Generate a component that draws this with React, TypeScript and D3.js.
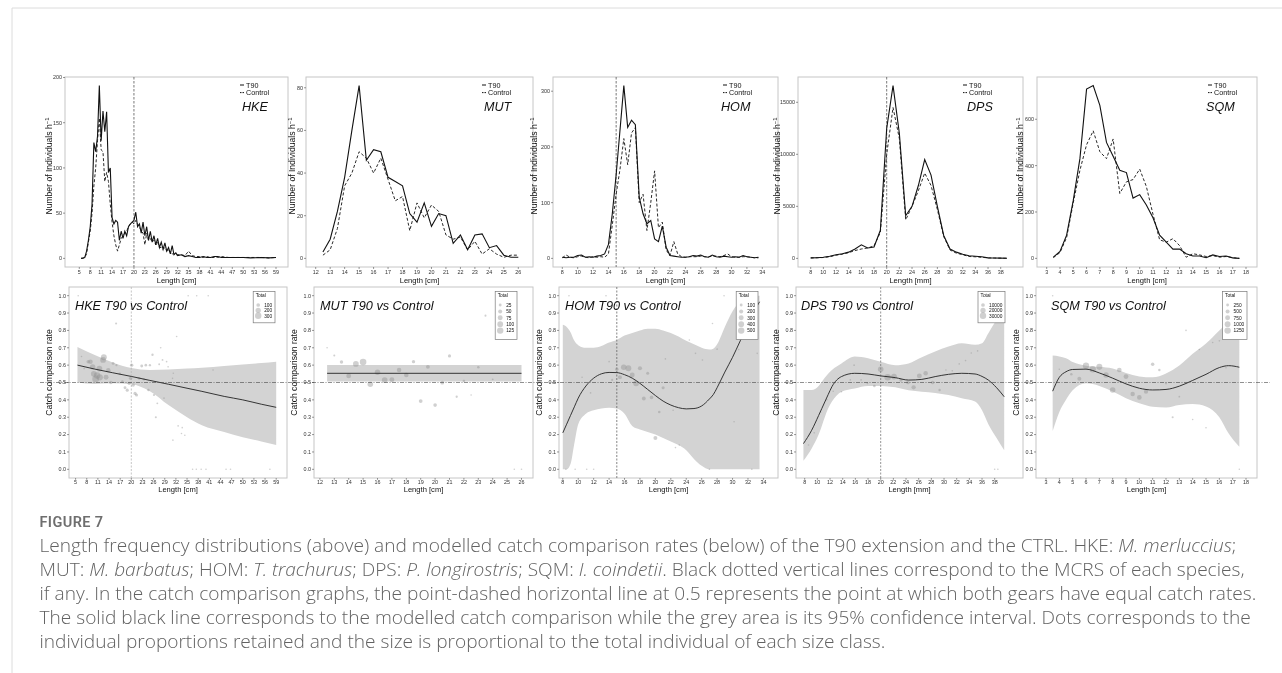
import React from "react";
import * as d3 from "d3";

// ---------------- DATA ----------------
// Length-frequency: [length, T90, Control]
const hkeFreq = [
  [5.5,0,0],[6,0.5,0],[6.5,1,1],[7,8,5],[7.5,20,18],[8,35,30],[8.5,60,50],[9,128,80],[9.5,118,100],[10,135,130],
  [10.5,191,155],[11,130,120],[11.5,163,118],[12,140,85],[12.5,162,95],[13,95,85],[13.5,100,60],[14,45,40],[14.5,38,25],
  [15,42,15],[15.5,40,8],[16,20,15],[16.5,30,22],[17,22,25],[17.5,30,28],[18,25,30],[18.5,35,35],[19,38,38],[19.5,40,40],
  [20,42,38],[20.5,51,42],[21,35,38],[21.5,38,35],[22,28,30],[22.5,40,28],[23,25,15],[23.5,35,28],[24,20,20],[24.5,30,22],
  [25,18,18],[25.5,25,20],[26,15,15],[26.5,22,18],[27,12,12],[27.5,18,12],[28,10,10],[28.5,17,12],[29,8,8],[29.5,12,10],
  [30,5,6],[30.5,14,5],[31,4,5],[31.5,6,4],[32,3,4],[33,4,4],[34,2,3],[35,3,8],[36,2,3],[37,1,2],[38,1,2],[39,2,1],
  [40,1,2],[41,1,1],[42,2,1],[43,2,1],[44,1,2],[46,1,1],[48,1,1],[50,1,1],[52,0.5,1],[55,1,1],[57,0.5,0.5],[59,1,1]
];
const mutFreq = [
  [12.5,3,1.5],[13,9,4],[13.5,22,14],[14,38,34],[14.5,60,40],[15,81,50],[15.5,46,47],[16,51,40],[16.5,50,47],[17,38,37],
  [17.5,36,27],[18,34,29],[18.5,21,13],[19,17,26],[19.5,26,19],[20,15,25],[20.5,21,22],[21,20,11],[21.5,7,9],[22,11,10],
  [22.5,4,4],[23,11,8],[23.5,11.5,2],[24,5,4.5],[24.5,6,2],[25,1.5,0.5],[25.5,0.5,1.5],[26,0.5,1.5]
];
const homFreq = [
  [8,2,1],[8.5,1,6],[9,2,2],[9.5,2,1],[10,5,3],[10.5,6,4],[11,2,2],[11.5,3,1],[12,2,3],[12.5,4,2],[13,5,3],[13.5,8,2],
  [14,25,8],[14.5,80,60],[15,150,115],[15.5,230,160],[16,310,215],[16.5,235,168],[17,248,225],[17.5,240,235],[18,110,100],
  [18.5,80,115],[19,62,50],[19.5,68,100],[20,35,157],[20.5,30,55],[21,58,65],[21.5,20,15],[22,5,5],[22.5,4,30],[23,3,8],
  [23.5,2,3],[24,2,2],[24.5,3,3],[25,5,3],[25.5,4,3],[26,6,4],[26.5,3,3],[27,2,3],[27.5,6,4],[28,3,4],[28.5,2,3],[29,4,5],
  [29.5,3,8],[30,2,3],[30.5,3,2],[31,2,2],[31.5,5,3],[32,3,3],[32.5,2,2],[33,1,1],[33.5,2,1]
];
const dpsFreq = [
  [8,50,40],[9,60,60],[10,100,80],[11,200,150],[12,350,300],[13,450,400],[14,600,550],[15,900,750],[16,1300,900],
  [17,1000,1000],[18,1100,1200],[19,2700,2500],[20,12500,10000],[21,16600,14500],[22,12000,11500],[23,4100,3700],
  [24,5000,5000],[25,7000,6500],[26,9500,8200],[27,8000,7000],[28,5000,4700],[29,2200,2100],[30,900,800],[31,600,500],
  [32,400,350],[33,250,180],[34,200,150],[35,150,100],[36,50,50],[37,30,30],[38,20,20],[39,10,10]
];
const sqmFreq = [
  [3.5,5,3],[4,30,25],[4.5,100,90],[5,250,240],[5.5,430,380],[6,730,490],[6.5,745,550],[7,660,460],[7.5,500,430],
  [8,440,515],[8.5,380,280],[9,370,330],[9.5,260,340],[10,275,385],[10.5,230,310],[11,175,190],[11.5,100,80],[12,70,70],
  [12.5,40,85],[13,40,55],[13.5,20,5],[14,10,20],[14.5,10,15],[15,3,8],[15.5,15,12],[16,8,5],[16.5,10,8],[17,2,3],[17.5,0,0]
];

// Modelled catch comparison: [length, fit, lower95, upper95]
const hkeModel = [
  [5.5,0.60,0.50,0.705],[10,0.578,0.492,0.66],[15,0.556,0.495,0.615],[20,0.535,0.49,0.583],[25,0.512,0.45,0.572],
  [30,0.49,0.37,0.575],[35,0.467,0.30,0.58],[39,0.449,0.254,0.585],[45,0.42,0.215,0.595],[50,0.40,0.185,0.603],
  [55,0.375,0.16,0.612],[59,0.357,0.14,0.62]
];
const mutModel = [[12.5,0.553,0.506,0.601],[26,0.553,0.506,0.601]];
const homModel = [
  [8,0.21,0.0,0.832],[8.5,0.26,0.0,0.82],[9,0.31,0.03,0.79],[9.5,0.36,0.15,0.74],[10,0.41,0.26,0.715],[11,0.48,0.32,0.70],
  [12,0.525,0.34,0.70],[13,0.55,0.35,0.71],[14,0.558,0.355,0.73],[15,0.557,0.35,0.745],[16,0.545,0.32,0.77],
  [17,0.525,0.25,0.785],[18,0.495,0.23,0.80],[19,0.46,0.215,0.81],[20,0.425,0.20,0.81],[21,0.393,0.18,0.80],
  [22,0.37,0.16,0.785],[23,0.355,0.14,0.765],[24,0.348,0.11,0.74],[25,0.35,0.06,0.72],[26,0.365,0.02,0.70],
  [27,0.405,0.0,0.69],[27.5,0.43,0.0,0.695],[28,0.47,0.0,0.72],[29,0.56,0.0,0.82],[30,0.645,0.0,0.91],
  [31,0.74,0.0,0.97],[32,0.835,0.0,1.0],[33,0.925,0.0,1.0],[33.5,0.965,0.0,1.0]
];
const dpsModel = [
  [7.8,0.148,0.05,0.457],[9.1,0.225,0.12,0.457],[10.2,0.31,0.2,0.48],[10.7,0.35,0.25,0.505],[11.7,0.43,0.35,0.55],
  [12.3,0.476,0.39,0.572],[13.8,0.534,0.447,0.61],[15.9,0.553,0.466,0.65],[18,0.549,0.48,0.64],[20,0.538,0.48,0.62],
  [22.3,0.528,0.472,0.60],[24.4,0.514,0.455,0.61],[26.5,0.518,0.447,0.645],[28.6,0.534,0.44,0.678],
  [30.7,0.547,0.428,0.707],[32.8,0.553,0.41,0.726],[34.9,0.549,0.39,0.717],[36,0.535,0.34,0.726],
  [37,0.514,0.26,0.784],[38.3,0.47,0.18,0.86],[39.5,0.418,0.11,0.9]
];
const sqmModel = [
  [3.5,0.45,0.22,0.655],[4,0.53,0.33,0.65],[4.5,0.562,0.4,0.64],[5,0.575,0.455,0.618],[6,0.577,0.495,0.597],
  [7,0.555,0.48,0.59],[8,0.525,0.448,0.58],[9,0.492,0.41,0.555],[10,0.467,0.38,0.535],[11,0.457,0.36,0.53],
  [12,0.46,0.356,0.552],[13,0.479,0.37,0.598],[14,0.512,0.376,0.665],[15,0.547,0.362,0.724],[16,0.586,0.30,0.80],
  [16.7,0.597,0.206,0.85],[17.5,0.588,0.13,0.88]
];

// Observed proportions: [length, rate, total]
const hkePoints = [
  [5.7,1.0,1],[6.6,0.65,3],[7.3,0.58,20],[8.4,0.62,90],[9.0,0.62,150],[9.6,0.59,220],[9.9,0.55,240],[10.4,0.52,340],
  [10.8,0.54,300],[11.4,0.58,250],[11.5,0.53,290],[12.4,0.63,250],[12.6,0.645,260],[13.2,0.53,180],[13.8,0.57,150],
  [14.5,0.50,80],[15.1,0.61,60],[15.9,0.84,30],[16.0,0.60,35],[16.9,0.55,50],[17.6,0.505,55],[18.3,0.47,60],
  [18.9,0.456,70],[19.4,0.495,75],[19.8,0.524,80],[20.1,0.60,85],[20.5,0.485,90],[21,0.437,75],[21.4,0.428,70],
  [22.1,0.524,60],[22.8,0.595,60],[23.4,0.518,45],[23.9,0.60,50],[24.6,0.457,45],[25,0.60,40],[25.7,0.66,40],
  [26.1,0.428,35],[26.6,0.30,30],[27,0.38,25],[27.5,0.605,25],[27.9,0.70,20],[28.4,0.63,25],[28.8,0.41,20],
  [29.5,0.62,20],[29.9,0.59,15],[31.1,0.524,15],[31.3,0.553,12],[31.2,0.168,10],[32.2,0.765,8],[32.6,0.25,6],
  [33.5,0.206,6],[34.4,0.196,5],[33.7,0.24,5],[35.3,1.0,3],[37.6,1.0,2],[40.7,1.0,2],[42,0.572,4],[36.5,0,2],
  [37.5,0,2],[38.8,0,2],[40.1,0,2],[45.5,0,1],[46.7,0,1],[57.3,0,1]
];
const mutPoints = [
  [12.5,0.70,4],[13,0.655,13],[13.5,0.618,36],[14,0.538,72],[14.5,0.607,100],[15,0.618,131],[15.5,0.49,93],
  [16,0.559,91],[16.5,0.514,97],[17,0.516,75],[17.5,0.572,63],[18,0.543,63],[18.5,0.62,34],[19,0.393,43],
  [19.5,0.59,45],[20,0.37,40],[20.5,0.499,43],[21,0.653,31],[21.5,0.418,16],[22,0.509,21],[22.5,0.428,8],
  [23,0.588,19],[23.5,0.885,13],[24,0.518,10],[25.5,0.0,2],[26,0.0,2]
];
const homPoints = [
  [8.8,1.0,2],[13.6,1.0,3],[28.9,1.0,3],[10.5,0.53,6],[11.6,0.44,3],[14.0,0.62,25],[14.4,0.515,60],[15.0,0.576,150],
  [15.4,0.53,200],[15.9,0.588,380],[16.5,0.582,420],[17.0,0.543,300],[17.5,0.495,400],[18.0,0.582,210],
  [18.5,0.408,180],[19.0,0.553,110],[19.5,0.414,160],[20.0,0.18,190],[20.5,0.33,80],[21.0,0.47,120],[21.3,0.636,30],
  [22.3,0.34,10],[22.6,0.125,8],[23.1,0.14,5],[24.4,0.745,5],[25.2,0.668,5],[26.1,0.63,7],[27.4,0.84,5],
  [28.0,0.692,6],[30.2,0.274,5],[30.8,0.69,4],[33.2,0.668,3],[8.4,0,3],[9.6,0,4],[11.1,0,3],[12.0,0,3],[27,0,4],[32.5,0,2]
];
const dpsPoints = [
  [8.6,0.14,90],[9.5,0.21,120],[10.5,0.33,250],[11.5,0.40,450],[12.5,0.45,650],[13.8,0.447,850],[15.2,0.515,1650],
  [15.8,0.60,2200],[16.9,0.515,2000],[17.9,0.495,2300],[19.0,0.48,5200],[20.0,0.576,22500],[21.1,0.53,31000],
  [22.1,0.534,23500],[23.2,0.514,7800],[24.3,0.50,10000],[25.2,0.472,13500],[26.1,0.538,17700],[27.1,0.553,15000],
  [28.2,0.50,9700],[29.3,0.457,4300],[30.3,0.572,1700],[31.3,0.567,1100],[32.4,0.607,750],[33.4,0.626,430],
  [34.3,0.67,350],[35.3,0.682,250],[36.3,0.5,100],[38,0,40],[38.5,0,20]
];
const sqmPoints = [
  [3.5,1.0,8],[4,0.576,55],[4.9,0.547,190],[5.5,0.522,490],[6.0,0.597,1220],[6.5,0.576,1295],[7.0,0.59,1120],
  [7.5,0.543,930],[8.0,0.457,955],[8.5,0.572,660],[9.0,0.534,700],[9.5,0.434,600],[10.0,0.414,660],[10.5,0.447,540],
  [11.0,0.605,365],[11.5,0.572,180],[12.0,0.495,140],[12.5,0.30,125],[13.0,0.418,95],[13.5,0.80,25],[14.0,0.287,30],
  [14.5,0.69,25],[15.0,0.239,11],[15.5,0.73,27],[16.0,0.74,13],[16.5,0.585,18],[17.5,0.0,3]
];

// Tick labels / legend breaks
const hkeXTicks = [5,8,11,14,17,20,23,26,29,32,35,38,41,44,47,50,53,56,59];
const mutXTicks = [12,13,14,15,16,17,18,19,20,21,22,23,24,25,26];
const homXTicks = [8,10,12,14,16,18,20,22,24,26,28,30,32,34];
const dpsXTicks = [8,10,12,14,16,18,20,22,24,26,28,30,32,34,36,38];
const sqmXTicks = [3,4,5,6,7,8,9,10,11,12,13,14,15,16,17,18];
const hkeYTicks = [0,50,100,150,200];
const mutYTicks = [0,20,40,60,80];
const homYTicks = [0,100,200,300];
const dpsYTicks = [0,5000,10000,15000];
const sqmYTicks = [0,200,400,600];
const rateTicks = [0,0.1,0.2,0.3,0.4,0.5,0.6,0.7,0.8,0.9,1.0];
const hkeBreaks = [100,200,300];
const mutBreaks = [25,50,75,100,125];
const homBreaks = [100,200,300,400,500];
const dpsBreaks = [10000,20000,30000];
const sqmBreaks = [250,500,750,1000,1250];
const seriesNames = ["T90", "Control"];

// ---------------- LAYOUT ----------------
const FONT = "'Liberation Sans', Arial, Helvetica, sans-serif";
const TOP_T = 77, TOP_B = 267, BOT_T = 287, BOT_B = 478;

type Row = number[];
interface Panel {
  code: string; unit: string; freq: Row[]; model: Row[]; points: Row[];
  xTicks: number[]; yTicks: number[]; breaks: number[]; mcrs: number | null;
  top: { L: number; R: number; a: number[]; b: number[]; keyX: number; labX: number; yLabX: number };
  bot: { L: number; R: number; a: number[]; b: number[]; titleX: number; legR: number; mcrsColor: string };
}

const panels: Panel[] = [
  { code: "HKE", unit: "cm", freq: hkeFreq, model: hkeModel, points: hkePoints, xTicks: hkeXTicks, yTicks: hkeYTicks,
    breaks: hkeBreaks, mcrs: 20,
    top: { L: 65, R: 288, a: [5, 79.3], b: [59, 276], keyX: 240, labX: 242, yLabX: 52 },
    bot: { L: 69, R: 287, a: [5, 75.6], b: [59, 276.2], titleX: 75, legR: 275, mcrsColor: "#b8b8b8" } },
  { code: "MUT", unit: "cm", freq: mutFreq, model: mutModel, points: mutPoints, xTicks: mutXTicks, yTicks: mutYTicks,
    breaks: mutBreaks, mcrs: null,
    top: { L: 306, R: 533, a: [12, 315.7], b: [26, 518.3], keyX: 482, labX: 484, yLabX: 295 },
    bot: { L: 314, R: 533, a: [12, 319.9], b: [26, 521.5], titleX: 320, legR: 517, mcrsColor: "#777" } },
  { code: "HOM", unit: "cm", freq: homFreq, model: homModel, points: homPoints, xTicks: homXTicks, yTicks: homYTicks,
    breaks: homBreaks, mcrs: 15,
    top: { L: 553, R: 778, a: [8, 562.3], b: [34, 762.3], keyX: 723, labX: 721, yLabX: 537 },
    bot: { L: 559, R: 778, a: [8, 562.8], b: [34, 763.4], titleX: 565, legR: 758, mcrsColor: "#666" } },
  { code: "DPS", unit: "mm", freq: dpsFreq, model: dpsModel, points: dpsPoints, xTicks: dpsXTicks, yTicks: dpsYTicks,
    breaks: dpsBreaks, mcrs: 20,
    top: { L: 798, R: 1023, a: [8, 810.7], b: [38, 1000.7], keyX: 963, labX: 967, yLabX: 780 },
    bot: { L: 796, R: 1023, a: [8, 804.7], b: [38, 994.7], titleX: 801, legR: 1005, mcrsColor: "#777" } },
  { code: "SQM", unit: "cm", freq: sqmFreq, model: sqmModel, points: sqmPoints, xTicks: sqmXTicks, yTicks: sqmYTicks,
    breaks: sqmBreaks, mcrs: null,
    top: { L: 1037, R: 1257, a: [3, 1046.7], b: [18, 1246], keyX: 1208, labX: 1206, yLabX: 1023 },
    bot: { L: 1036, R: 1257, a: [3, 1046], b: [18, 1246], titleX: 1051, legR: 1247, mcrsColor: "#777" } },
];

const TICK = "#333";
const TICKFS = 5.4;

function TopPanel({ p }: { p: Panel }) {
  const c = p.top;
  const x = d3.scaleLinear().domain([c.a[0], c.b[0]]).range([c.a[1], c.b[1]]);
  const maxV = d3.max(p.freq, (d) => Math.max(d[1], d[2])) as number;
  const y = d3.scaleLinear().domain([-0.05 * maxV, 1.05 * maxV]).range([TOP_B, TOP_T]);
  const lT = d3.line<Row>().x((d) => x(d[0])).y((d) => y(d[1]));
  const lC = d3.line<Row>().x((d) => x(d[0])).y((d) => y(d[2]));
  const cid = "ct" + p.code;
  const cy = (TOP_T + TOP_B) / 2;
  return (
    <g>
      <clipPath id={cid}><rect x={c.L} y={TOP_T} width={c.R - c.L} height={TOP_B - TOP_T} /></clipPath>
      <rect x={c.L} y={TOP_T} width={c.R - c.L} height={TOP_B - TOP_T} fill="#fff" stroke="#c6c6c6" strokeWidth={1} />
      <g clipPath={`url(#${cid})`}>
        {p.mcrs != null && (
          <line x1={x(p.mcrs)} x2={x(p.mcrs)} y1={TOP_T} y2={TOP_B} stroke="#555" strokeWidth={0.8} strokeDasharray="2.5 1.5" />
        )}
        <path d={lC(p.freq) || ""} fill="none" stroke="#2a2a2a" strokeWidth={1} strokeDasharray="3 2" />
        <path d={lT(p.freq) || ""} fill="none" stroke="#111" strokeWidth={1.1} />
      </g>
      {p.xTicks.map((t) => (
        <g key={"x" + t}>
          <line x1={x(t)} x2={x(t)} y1={TOP_B} y2={TOP_B + 2} stroke={TICK} strokeWidth={0.5} />
          <text x={x(t)} y={TOP_B + 7} fontSize={TICKFS} textAnchor="middle" fill={TICK} fontFamily={FONT}>{t}</text>
        </g>
      ))}
      {p.yTicks.map((t) => (
        <g key={"y" + t}>
          <line x1={c.L - 2} x2={c.L} y1={y(t)} y2={y(t)} stroke={TICK} strokeWidth={0.5} />
          <text x={c.L - 3} y={y(t) + 1.9} fontSize={TICKFS} textAnchor="end" fill={TICK} fontFamily={FONT}>{t}</text>
        </g>
      ))}
      <text x={(c.L + c.R) / 2} y={TOP_B + 16} fontSize={7.6} textAnchor="middle" fill="#111" fontFamily={FONT}>
        {`Length [${p.unit}]`}
      </text>
      <text transform={`translate(${c.yLabX},${cy - 6}) rotate(-90)`} fontSize={8.6} textAnchor="middle" fill="#111" fontFamily={FONT}>
        Number of Individuals h<tspan fontSize={6} dy={-3}>−1</tspan>
      </text>
      {seriesNames.map((s, i) => (
        <g key={s}>
          <line x1={c.keyX} x2={c.keyX + 4} y1={85 + i * 7.6} y2={85 + i * 7.6} stroke="#111" strokeWidth={1}
            strokeDasharray={i === 1 ? "1.5 1" : undefined} />
          <text x={c.keyX + 6} y={87.6 + i * 7.6} fontSize={7.2} fill="#111" fontFamily={FONT}>{s}</text>
        </g>
      ))}
      <text x={c.labX} y={110.5} fontSize={12.6} fontStyle="italic" fill="#111" fontFamily={FONT}>{p.code}</text>
    </g>
  );
}

function BottomPanel({ p }: { p: Panel }) {
  const c = p.bot;
  const x = d3.scaleLinear().domain([c.a[0], c.b[0]]).range([c.a[1], c.b[1]]);
  const y = d3.scaleLinear().domain([-0.05, 1.05]).range([BOT_B, BOT_T]);
  const band = d3.area<Row>().x((d) => x(d[0])).y0((d) => y(d[2])).y1((d) => y(d[3])).curve(d3.curveMonotoneX);
  const fit = d3.line<Row>().x((d) => x(d[0])).y((d) => y(d[1])).curve(d3.curveMonotoneX);
  const maxB = d3.max(p.breaks) as number;
  const r = d3.scaleSqrt().domain([0, maxB]).range([0, 3.2]);
  const rad = (v: number) => Math.max(0.8, r(v));
  const cid = "cb" + p.code;
  const n = p.breaks.length;
  const sp = n > 3 ? 6.4 : 5.4;
  const maxChars = d3.max(p.breaks, (b) => String(b).length) as number;
  const legW = 14 + maxChars * 2.6;
  const legH = 13.5 + (n - 1) * sp + (n > 3 ? 9 : 7);
  const legX = c.legR - legW;
  const legY = 291.5;
  return (
    <g>
      <clipPath id={cid}><rect x={c.L} y={BOT_T} width={c.R - c.L} height={BOT_B - BOT_T} /></clipPath>
      <rect x={c.L} y={BOT_T} width={c.R - c.L} height={BOT_B - BOT_T} fill="#fff" stroke="#c6c6c6" strokeWidth={1} />
      <g clipPath={`url(#${cid})`}>
        <path d={band(p.model) || ""} fill="#d3d3d3" />
        {p.mcrs != null && (
          <line x1={x(p.mcrs)} x2={x(p.mcrs)} y1={BOT_T} y2={BOT_B} stroke={c.mcrsColor} strokeWidth={0.8} strokeDasharray="2 1.5" />
        )}
        {p.points.map((d, i) => (
          <circle key={i} cx={x(d[0])} cy={y(d[1])} r={rad(d[2])} fill="#8f8f8f" fillOpacity={0.42} />
        ))}
        <path d={fit(p.model) || ""} fill="none" stroke="#222" strokeWidth={0.9} />
      </g>
      {p.xTicks.map((t) => (
        <g key={"x" + t}>
          <line x1={x(t)} x2={x(t)} y1={BOT_B} y2={BOT_B + 1.8} stroke={TICK} strokeWidth={0.5} />
          <text x={x(t)} y={BOT_B + 6.2} fontSize={TICKFS} textAnchor="middle" fill={TICK} fontFamily={FONT}>{t}</text>
        </g>
      ))}
      {rateTicks.map((t) => (
        <g key={"y" + t}>
          <line x1={c.L - 2} x2={c.L} y1={y(t)} y2={y(t)} stroke={TICK} strokeWidth={0.5} />
          <text x={c.L - 3} y={y(t) + 1.9} fontSize={TICKFS} textAnchor="end" fill={TICK} fontFamily={FONT}>{t.toFixed(1)}</text>
        </g>
      ))}
      <text x={(c.L + c.R) / 2} y={BOT_B + 13.5} fontSize={7.6} textAnchor="middle" fill="#111" fontFamily={FONT}>
        {`Length [${p.unit}]`}
      </text>
      <text transform={`translate(${c.L - 17},${(BOT_T + BOT_B) / 2 - 10}) rotate(-90)`} fontSize={8.6} textAnchor="middle"
        fill="#111" fontFamily={FONT}>Catch comparison rate</text>
      <text x={c.titleX} y={309.5} fontSize={12.7} fontStyle="italic" fill="#111" fontFamily={FONT}>
        {`${p.code} T90 vs Control`}
      </text>
      <rect x={legX} y={legY} width={legW} height={legH} fill="#fff" stroke="#7a7a7a" strokeWidth={0.7} />
      <text x={legX + 2.5} y={legY + 5.5} fontSize={4.8} fill="#111" fontFamily={FONT}>Total</text>
      {p.breaks.map((b, i) => (
        <g key={b}>
          <circle cx={legX + 5} cy={legY + 13.5 + i * sp} r={rad(b)} fill="#8f8f8f" fillOpacity={0.42} />
          <text x={legX + 11} y={legY + 15.2 + i * sp} fontSize={4.8} fill="#111" fontFamily={FONT}>{b}</text>
        </g>
      ))}
    </g>
  );
}

const CAP_FONT = "'Open Sans', 'Noto Sans', sans-serif";
const captionLines: [string, boolean][][] = [
  [["Length frequency distributions (above) and modelled catch comparison rates (below) of the T90 extension and the CTRL. HKE: ", false], ["M. merluccius", true], [";", false]],
  [["MUT: ", false], ["M. barbatus", true], ["; HOM: ", false], ["T. trachurus", true], ["; DPS: ", false], ["P. longirostris", true], ["; SQM: ", false], ["I. coindetii", true], [". Black dotted vertical lines correspond to the MCRS of each species,", false]],
  [["if any. In the catch comparison graphs, the point-dashed horizontal line at 0.5 represents the point at which both gears have equal catch rates.", false]],
  [["The solid black line corresponds to the modelled catch comparison while the grey area is its 95% confidence interval. Dots corresponds to the", false]],
  [["individual proportions retained and the size is proportional to the total individual of each size class.", false]],
];

export default function App() {
  const yRate = d3.scaleLinear().domain([-0.05, 1.05]).range([BOT_B, BOT_T]);
  return (
    <svg width={1282} height={673}
      style={{ position: "absolute", left: 0, top: 0, background: "#fff", filter: "grayscale(1)" }}>
      <rect x={0} y={0} width={1282} height={673} fill="#fff" />
      <line x1={12} x2={1282} y1={8} y2={8} stroke="#dcdcdc" strokeWidth={1} />
      <line x1={12} x2={12} y1={8} y2={673} stroke="#dcdcdc" strokeWidth={1} />
      {panels.map((p) => <TopPanel key={"t" + p.code} p={p} />)}
      {panels.map((p) => <BottomPanel key={"b" + p.code} p={p} />)}
      <line x1={40} x2={1270} y1={yRate(0.5)} y2={yRate(0.5)} stroke="#444" strokeWidth={0.6} strokeDasharray="4 1.5 1 1.5" />
      <text x={39.5} y={526.5} fontSize={14.5} fontWeight={600} fill="#6e6e6e" fontFamily="'Roboto', sans-serif" letterSpacing={0.4}>FIGURE 7</text>
      {captionLines.map((segs, i) => (
        <text key={i} x={39.5} y={551.5 + i * 24} fontSize={19.1} fontWeight={300} fill="#626262" fontFamily={CAP_FONT}>
          {segs.map(([s, it], j) => (
            <tspan key={j} fontStyle={it ? "italic" : "normal"}>{s}</tspan>
          ))}
        </text>
      ))}
    </svg>
  );
}
